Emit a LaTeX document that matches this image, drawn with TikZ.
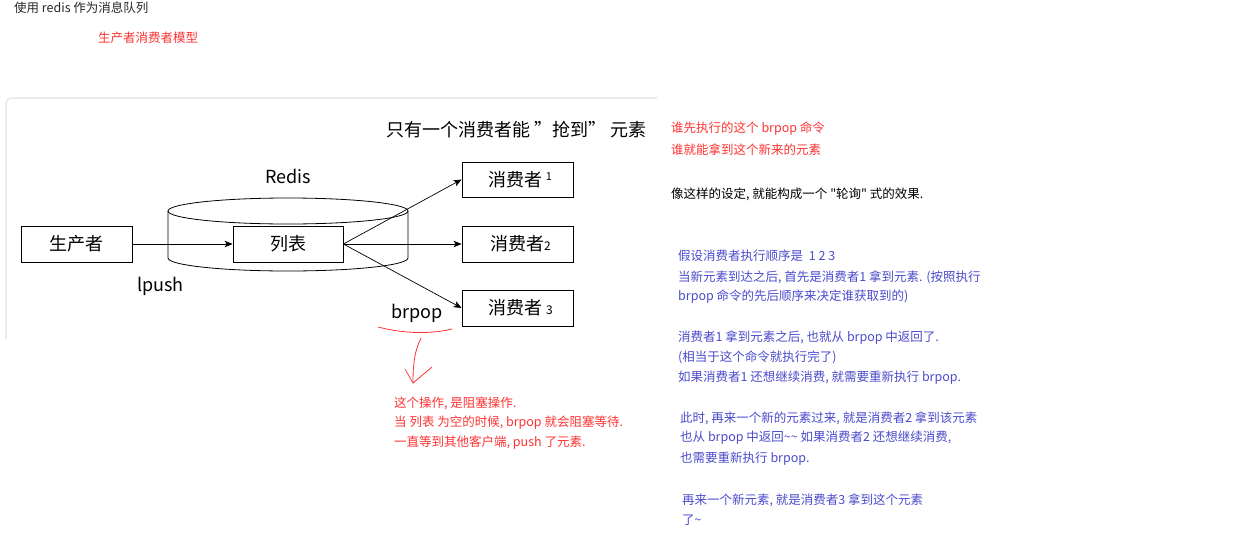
\documentclass[tikz,border=0pt]{standalone}
\usepackage{fontspec}
\defaultfontfeatures{Ligatures=TeXOff}
\setmainfont{Noto Sans CJK SC}[Ligatures=TeXOff]
\usetikzlibrary{arrows.meta}
\definecolor{notered}{RGB}{255,51,51}
\definecolor{noteblue}{RGB}{75,75,205}
\definecolor{notegray}{RGB}{40,40,40}
\definecolor{panelgray}{RGB}{232,232,232}
\tikzset{
  box/.style={draw=black, line width=0.8pt, fill=white, minimum width=111pt, minimum height=36pt, inner sep=0pt, font=\fontsize{18}{20}\selectfont},
  biglabel/.style={inner sep=0pt, font=\fontsize{18}{20}\selectfont},
  note/.style={anchor=west, inner sep=0pt, font=\fontsize{12.5}{15}\selectfont},
  rednote/.style={note, text=notered},
  bluenote/.style={note, text=noteblue},
  flow/.style={draw=black, line width=0.7pt, -{Stealth[length=8pt,width=6.5pt,inset=2pt]}},
}
\begin{document}
\begin{tikzpicture}[x=1pt,y=-1pt]
\useasboundingbox (0,0) rectangle (1243,536);
\fill[white] (0,0) rectangle (1243,536);
% top texts
\node[note, text=notegray] (t1) at (14,8) {使用 redis 作为消息队列};
\node[rednote] (t2) at (98,38) {生产者消费者模型};
% panel border
\draw[panelgray, line width=1.5pt] (6,339) -- (6,104) arc[start angle=180, end angle=90, radius=6pt] -- (657,98);
% title
\node[biglabel, anchor=west] (title) at (386,130) {只有一个消费者能 ”抢到” 元素};
% cylinder
\draw[line width=0.8pt] (288,211) ellipse [x radius=120pt, y radius=13pt];
\draw[line width=0.8pt] (168,211) -- (168,258) arc[start angle=180, end angle=360, x radius=120pt, y radius=13pt] -- (408,211);
\node[biglabel] (redis) at (288,176) {Redis};
% boxes
\node[box] (prod) at (76.5,244) {生产者};
\node[box, minimum width=110pt] (list) at (288,244) {列表};
\node[box, minimum height=35pt] (c1) at (517.5,179.5) {\hspace*{6pt}消费者\,\raisebox{6pt}{\fontsize{11}{12}\selectfont 1}};
\node[box] (c2) at (517.5,244) {\hspace*{6pt}消费者{\fontsize{12}{12}\selectfont 2}};
\node[box] (c3) at (517.5,308) {\hspace*{6pt}消费者 {\fontsize{12}{12}\selectfont 3}};
% arrows
\draw[flow] (prod.east) -- (list.west);
\draw[flow] (list.east) -- (c1.west);
\draw[flow] (list.east) -- (c2.west);
\draw[flow] (list.east) -- (c3.west);
% labels
\node[biglabel, anchor=west] (lpush) at (137,286) {lpush};
\node[biglabel, anchor=west] (brpop) at (391,313) {brpop};
% red annotations
\draw[notered, line width=0.8pt] (378,327) .. controls (405,334) and (432,334) .. (452,329);
\draw[notered, line width=0.8pt] (421,338) .. controls (414,352) and (413,366) .. (413,383);
\draw[notered, line width=0.8pt] (405,369) -- (413,383) -- (432,367);
\node[rednote] (r1) at (394,403) {这个操作, 是阻塞操作.};
\node[rednote] (r2) at (394,423) {当 列表 为空的时候, brpop 就会阻塞等待.};
\node[rednote] (r3) at (394,443) {一直等到其他客户端, push 了元素.};
% right side notes
\node[rednote] (n1) at (671,129) {谁先执行的这个 brpop 命令};
\node[rednote] (n2) at (671,150) {谁就能拿到这个新来的元素};
\node[note, text=black] (n3) at (671,194) {像这样的设定, 就能构成一个 "轮询" 式的效果.};
\node[bluenote] (b1) at (678,256) {假设消费者执行顺序是\ \ 1 2 3};
\node[bluenote] (b2) at (678,277) {当新元素到达之后, 首先是消费者1 拿到元素. (按照执行};
\node[bluenote] (b3) at (678,297) {brpop 命令的先后顺序来决定谁获取到的)};
\node[bluenote] (b4) at (678,338) {消费者1 拿到元素之后, 也就从 brpop 中返回了.};
\node[bluenote] (b5) at (678,357) {(相当于这个命令就执行完了)};
\node[bluenote] (b6) at (678,378) {如果消费者1 还想继续消费, 就需要重新执行 brpop.};
\node[bluenote] (b7) at (680,418) {此时, 再来一个新的元素过来, 就是消费者2 拿到该元素};
\node[bluenote] (b8) at (680,438) {也从 brpop 中返回\textasciitilde\textasciitilde{} 如果消费者2 还想继续消费,};
\node[bluenote] (b9) at (680,459) {也需要重新执行 brpop.};
\node[bluenote] (b10) at (682,500) {再来一个新元素, 就是消费者3 拿到这个元素};
\node[bluenote] (b11) at (682,520) {了\textasciitilde};
\end{tikzpicture}
\end{document}
